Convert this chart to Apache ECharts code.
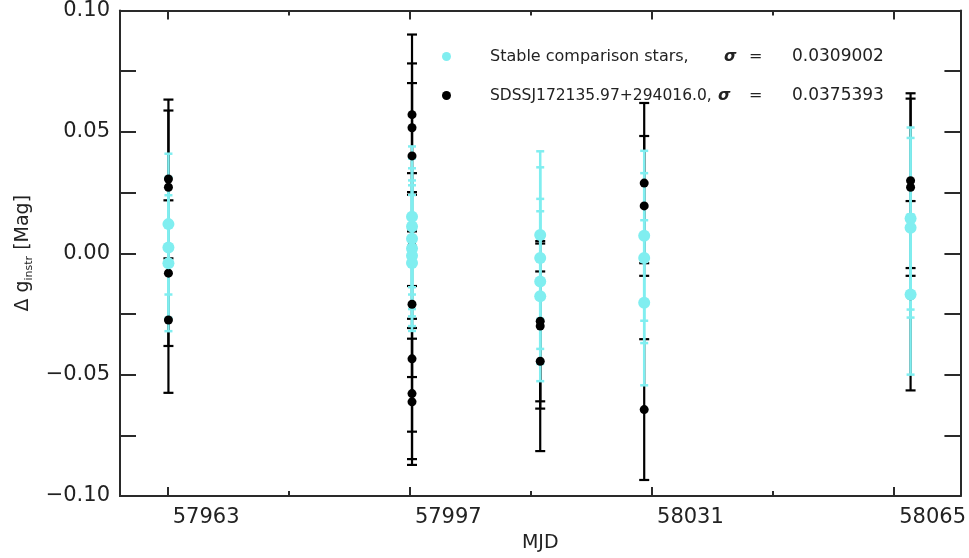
<!DOCTYPE html>
<html>
<head>
<meta charset="utf-8">
<script src="https://cdn.jsdelivr.net/npm/echarts@6/dist/echarts.min.js"></script>
<style>
html,body{margin:0;padding:0;background:#fff;}
#chart{width:969px;height:558px;}
</style>
</head>
<body>
<div id="chart"></div>
<script>
// ---- data ----
const xMajorTicks = [57963, 57997, 58031, 58065];
const xMinorTicks = [57980, 58014, 58048];
const xRange = [57956.3, 58074.3];
const yRange = [-0.1, 0.1];

// SDSSJ172135.97+294016.0 (target)
const targetMJD   = [57963.1, 57963.1, 57963.1, 57963.1,
                     57997.3, 57997.3, 57997.3, 57997.3, 57997.3, 57997.3, 57997.3, 57997.3,
                     58015.3, 58015.3, 58015.3,
                     58029.9, 58029.9, 58029.9,
                     58067.3, 58067.3, 58067.3];
const targetDelta = [0.0306, 0.0272, -0.0082, -0.0275,
                     0.0571, 0.0517, 0.0401, 0.003, -0.021, -0.0435, -0.0578, -0.0612,
                     -0.028, -0.030, -0.0445,
                     0.0289, 0.0195, -0.0644,
                     0.0299, 0.0272, -0.0175];
const targetErr   = [0.0327, 0.0316, 0.030, 0.030,
                     0.033, 0.0265, 0.030, 0.030, 0.030, 0.030, 0.027, 0.026,
                     0.033, 0.034, 0.037,
                     0.033, 0.0288, 0.029,
                     0.036, 0.0365, 0.039];

// Stable comparison stars
const compMJD   = [57963.1, 57963.1, 57963.1,
                   57997.3, 57997.3, 57997.3, 57997.3, 57997.3, 57997.3,
                   58015.3, 58015.3, 58015.3, 58015.3,
                   58029.9, 58029.9, 58029.9,
                   58067.3, 58067.3, 58067.3];
const compDelta = [0.012, 0.0024, -0.0041,
                   0.015, 0.011, 0.006, 0.002, -0.001, -0.004,
                   0.0075, -0.002, -0.0116, -0.0177,
                   0.0072, -0.002, -0.0204,
                   0.0143, 0.0105, -0.017];
const compErr   = [0.029, 0.029, 0.028,
                   0.029, 0.028, 0.029, 0.028, 0.029, 0.028,
                   0.0345, 0.0374, 0.034, 0.035,
                   0.035, 0.035, 0.034,
                   0.0375, 0.037, 0.033];

const compName = 'Stable comparison stars';
const targetName = 'SDSSJ172135.97+294016.0';
const compSigma = '0.0309002';
const targetSigma = '0.0375393';

// ---- styling ----
const FONT = 'DejaVu Sans';
const CYAN = '#80eef0';
const BLACK = '#000000';
const AXIS = '#2a2a2a';

const targetData = targetMJD.map((m, i) => [m, targetDelta[i], targetErr[i]]);
const compData = compMJD.map((m, i) => [m, compDelta[i], compErr[i]]);

function errRender(capHalf, color, lw) {
  return function (params, api) {
    const x = api.value(0), y = api.value(1), e = api.value(2);
    const t = api.coord([x, y + e]);
    const b = api.coord([x, y - e]);
    const st = { stroke: color, lineWidth: lw };
    return {
      type: 'group',
      children: [
        { type: 'line', shape: { x1: t[0], y1: t[1], x2: b[0], y2: b[1] }, style: st },
        { type: 'line', shape: { x1: t[0] - capHalf, y1: t[1], x2: t[0] + capHalf, y2: t[1] }, style: st },
        { type: 'line', shape: { x1: b[0] - capHalf, y1: b[1], x2: b[0] + capHalf, y2: b[1] }, style: st }
      ]
    };
  };
}

function xAxisDef(pos, ticks, len, withLabel, name) {
  const ax = {
    type: 'value', gridIndex: 0, position: pos,
    min: xRange[0], max: xRange[1],
    axisLine: { show: true, onZero: false, lineStyle: { color: AXIS, width: 2 } },
    axisTick: { show: true, inside: true, length: len, customValues: ticks, lineStyle: { color: AXIS, width: 2 } },
    axisLabel: withLabel ? {
      show: true, customValues: ticks, align: 'left', padding: [0, 0, 0, 5],
      margin: 11, fontSize: 21, fontFamily: FONT, color: '#222',
      formatter: v => String(Math.round(v))
    } : { show: false },
    splitLine: { show: false }
  };
  if (name) {
    ax.name = name; ax.nameLocation = 'middle'; ax.nameGap = 38;
    ax.nameTextStyle = { fontSize: 19, fontFamily: FONT, color: '#222' };
  }
  return ax;
}

function yFmt(v) {
  const k = Math.round(v * 1000);
  if (k % 50 !== 0) return '';
  const s = Math.abs(v).toFixed(2);
  return k < 0 ? '\u2212' + s : s;
}

function yAxisDef(pos, withLabel) {
  const ax = {
    type: 'value', gridIndex: 0, position: pos,
    min: yRange[0], max: yRange[1], interval: 0.025,
    axisLine: { show: true, onZero: false, lineStyle: { color: AXIS, width: 2 } },
    axisTick: { show: true, inside: true, length: 16, lineStyle: { color: AXIS, width: 2 } },
    axisLabel: withLabel ? { show: true, margin: 10, fontSize: 21, fontFamily: FONT, color: '#222', formatter: yFmt }
                         : { show: false },
    splitLine: { show: false }
  };
  if (withLabel) {
    ax.name = '{m|\u0394 g}{s|instr}{m| [Mag]}';
    ax.nameLocation = 'middle';
    ax.nameGap = 80;
    ax.nameTextStyle = {
      rich: {
        m: { fontSize: 19, fontFamily: FONT, color: '#222', lineHeight: 24 },
        s: { fontSize: 11, fontFamily: FONT, color: '#222', lineHeight: 13, verticalAlign: 'bottom' }
      }
    };
  }
  return ax;
}

const chart = echarts.init(document.getElementById('chart'), null, { renderer: 'canvas' });
chart.setOption({
  animation: false,
  backgroundColor: '#ffffff',
  grid: { left: 120, right: 8, top: 10, bottom: 58, containLabel: false },
  xAxis: [
    xAxisDef('bottom', xMajorTicks, 9, true, 'MJD'),
    xAxisDef('bottom', xMinorTicks, 5, false),
    xAxisDef('top', xMajorTicks, 9, false),
    xAxisDef('top', xMinorTicks, 5, false)
  ],
  yAxis: [
    yAxisDef('left', true),
    yAxisDef('right', false)
  ],
  legend: {
    show: true, orient: 'vertical', left: 437, top: 43,
    itemWidth: 9, itemHeight: 9, itemGap: 22, icon: 'circle',
    data: [compName, targetName],
    selectedMode: false,
    formatter: function (name) {
      if (name === compName) return '{n1|Stable comparison stars,}{g1|\u03c3}{e|=}{v|' + compSigma + '}';
      return '{n2|' + targetName + ',}{g2|\u03c3}{e|=}{v|' + targetSigma + '}';
    },
    textStyle: {
      fontFamily: FONT, fontSize: 16, color: '#222',
      rich: {
        n1: { fontFamily: FONT, fontSize: 16, color: '#222', width: 234, padding: [0, 0, 0, 34], lineHeight: 20 },
        n2: { fontFamily: FONT, fontSize: 15.5, color: '#222', width: 228, padding: [0, 0, 0, 34], lineHeight: 20 },
        g1: { fontFamily: FONT, fontSize: 16, color: '#222', fontStyle: 'italic', fontWeight: 'bold', width: 25, lineHeight: 20 },
        g2: { fontFamily: FONT, fontSize: 16, color: '#222', fontStyle: 'italic', fontWeight: 'bold', width: 31, lineHeight: 20 },
        e: { fontFamily: FONT, fontSize: 16, color: '#222', width: 43, lineHeight: 20 },
        v: { fontFamily: FONT, fontSize: 17, color: '#222', lineHeight: 20 }
      }
    }
  },
  series: [
    {
      type: 'custom', name: 'targetErr', xAxisIndex: 0, yAxisIndex: 0, z: 1,
      renderItem: errRender(5, BLACK, 2.2), encode: { x: 0, y: 1 },
      data: targetData, silent: true
    },
    {
      type: 'custom', name: 'compErr', xAxisIndex: 0, yAxisIndex: 0, z: 2,
      renderItem: errRender(4, CYAN, 2.5), encode: { x: 0, y: 1 },
      data: compData, silent: true
    },
    {
      type: 'scatter', name: targetName, xAxisIndex: 0, yAxisIndex: 0, z: 3,
      symbol: 'circle', symbolSize: 9,
      itemStyle: { color: BLACK, opacity: 1 },
      data: targetData.map(d => [d[0], d[1]]), silent: true
    },
    {
      type: 'scatter', name: compName, xAxisIndex: 0, yAxisIndex: 0, z: 4,
      symbol: 'circle', symbolSize: 12,
      itemStyle: { color: CYAN, opacity: 1 },
      data: compData.map(d => [d[0], d[1]]), silent: true
    }
  ]
});
</script>
</body>
</html>
